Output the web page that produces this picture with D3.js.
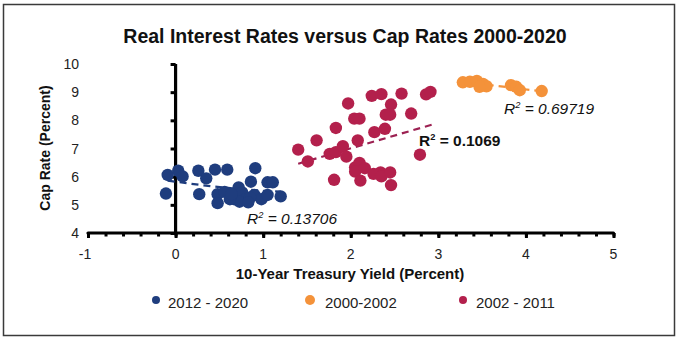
<!DOCTYPE html>
<html>
<head>
<meta charset="utf-8">
<script src="https://cdn.jsdelivr.net/npm/d3@7"></script>
<style>
  html, body { margin: 0; padding: 0; background: #fff; }
  svg { display: block; font-family: "Liberation Sans", Arial, sans-serif; }
</style>
</head>
<body>
<svg id="chart" width="680" height="341"></svg>
<script>
// ---------- data ----------
const chartTitle = "Real Interest Rates versus Cap Rates 2000-2020";
const xTicks = [-1, 0, 1, 2, 3, 4, 5];
const yTicks = [4, 5, 6, 7, 8, 9, 10];
const seriesNames = ["2012 - 2020", "2000-2002", "2002 - 2011"];

// 2012 - 2020 : [10y yield, cap rate]
const blueData = [
  [-0.09, 6.06], [0.03, 6.21], [0.08, 6.01], [-0.11, 5.40], [0.26, 6.21],
  [0.35, 5.94], [0.45, 6.25], [0.59, 6.25], [0.91, 6.30], [0.27, 5.38],
  [0.48, 5.38], [0.56, 5.46], [0.48, 5.06], [0.67, 5.20], [0.72, 5.62],
  [0.76, 5.44], [0.86, 5.82], [1.05, 5.80], [1.11, 5.80], [0.90, 5.35],
  [0.79, 5.18], [0.73, 5.11], [0.62, 5.20], [0.98, 5.20], [1.05, 5.35],
  [1.20, 5.30], [0.85, 5.26], [0.64, 5.38], [0.83, 5.09]
];
// 2000-2002
const orangeData = [
  [3.28, 9.35], [3.36, 9.37], [3.44, 9.40], [3.51, 9.29], [3.55, 9.21],
  [3.47, 9.19], [3.83, 9.25], [3.89, 9.19], [3.93, 9.07], [4.18, 9.04]
];
// 2002 - 2011
const crimsonData = [
  [1.40, 6.96], [1.51, 6.54], [1.61, 7.29], [1.76, 6.81], [1.83, 6.87],
  [1.81, 5.89], [1.83, 7.73], [1.91, 7.08], [1.95, 6.71], [1.97, 8.60],
  [2.04, 8.06], [2.10, 8.06], [2.08, 7.29], [2.05, 6.33], [2.10, 6.49],
  [2.05, 6.18], [2.11, 5.86], [2.16, 6.30], [2.24, 8.87], [2.35, 8.93],
  [2.46, 8.56], [2.40, 8.20], [2.45, 8.20], [2.58, 8.95], [2.27, 7.58],
  [2.39, 7.70], [2.69, 8.24], [2.86, 8.92], [2.91, 9.01], [2.26, 6.10],
  [2.34, 6.15], [2.35, 6.01], [2.45, 6.15], [2.46, 5.70], [2.79, 6.78]
];
// trend lines
const blueTrend = [[-0.09, 5.86], [0.3, 5.70], [0.6, 5.60], [0.9, 5.52], [1.2, 5.47]];
const orangeTrend = [[3.28, 9.37], [4.18, 9.03]];
const crimsonTrend = [[1.40, 6.46], [2.93, 7.85]];
const r2Labels = ["0.13706", "0.69719", "0.1069"];

// ---------- layout ----------
const colors = { blue: "#1f3d7e", orange: "#f4923a", crimson: "#b3204c", crimsonLine: "#9c2152" };
const svg = d3.select("#chart");

const x = d3.scaleLinear().domain([-1, 5]).range([88, 613.5]);
const y = d3.scaleLinear().domain([4, 10]).range([233, 64]);

// border
svg.append("rect").attr("x", 3.5).attr("y", 4.5).attr("width", 671).attr("height", 331)
  .attr("fill", "none").attr("stroke", "#3a3a3a").attr("stroke-width", 1.5);

// title
svg.append("text").attr("x", 345).attr("y", 43).attr("text-anchor", "middle")
  .attr("font-size", 19.5).attr("font-weight", "bold").attr("fill", "#111")
  .text(chartTitle);

// y tick labels (left side)
svg.append("g").selectAll("text").data(yTicks).join("text")
  .attr("x", 79).attr("y", d => y(d) + 5).attr("text-anchor", "end")
  .attr("font-size", 14).attr("fill", "#222").text(d => d);

// y axis line with ticks at x=0
const yAxis = d3.axisLeft(y).tickValues(yTicks).tickSize(5).tickFormat("");
const gy = svg.append("g").attr("transform", `translate(${x(0)},0)`).call(yAxis);
gy.select(".domain").attr("stroke", "#000").attr("stroke-width", 3.2).attr("d", `M0,${y(4)}V${y(10)}`);
gy.selectAll(".tick line").attr("stroke", "#000").attr("stroke-width", 3);

// x axis minor ticks
const minorVals = d3.range(-1, 5.0001, 0.2).map(v => +v.toFixed(2));
const xMinor = d3.axisBottom(x).tickValues(minorVals).tickSize(3.5).tickFormat("");
const gxm = svg.append("g").attr("transform", `translate(0,${y(4)})`).call(xMinor);
gxm.select(".domain").remove();
gxm.selectAll(".tick line").attr("stroke", "#000").attr("stroke-width", 3);

// x axis major
const xAxis = d3.axisBottom(x).tickValues(xTicks).tickSize(5).tickFormat("");
const gx = svg.append("g").attr("transform", `translate(0,${y(4)})`).call(xAxis);
gx.select(".domain").attr("stroke", "#000").attr("stroke-width", 3.2)
  .attr("stroke-linecap", "round").attr("d", `M${x(-1)},0H${x(5)}`);
gx.selectAll(".tick line").attr("stroke", "#000").attr("stroke-width", 3);

// x tick labels
svg.append("g").selectAll("text").data(xTicks).join("text")
  .attr("x", d => x(d) - (d < 0 ? 3 : 0)).attr("y", 259).attr("text-anchor", "middle")
  .attr("font-size", 14).attr("fill", "#222").text(d => d);

// axis titles
svg.append("text").attr("x", 350).attr("y", 279).attr("text-anchor", "middle")
  .attr("font-size", 15).attr("font-weight", "bold").attr("fill", "#111")
  .text("10-Year Treasury Yield (Percent)");
svg.append("text").attr("transform", "translate(50,148) rotate(-90)").attr("text-anchor", "middle")
  .attr("font-size", 14).attr("font-weight", "bold").attr("fill", "#111")
  .text("Cap Rate (Percent)");

// trend lines
const line = d3.line().x(d => x(d[0])).y(d => y(d[1])).curve(d3.curveMonotoneX);
svg.append("path").datum(blueTrend).attr("d", line).attr("fill", "none")
  .attr("stroke", colors.blue).attr("stroke-width", 2.2).attr("stroke-dasharray", "7,5");
svg.append("path").datum(orangeTrend).attr("d", line).attr("fill", "none")
  .attr("stroke", colors.orange).attr("stroke-width", 2.2).attr("stroke-dasharray", "7,5");
svg.append("path").datum(crimsonTrend).attr("d", line).attr("fill", "none")
  .attr("stroke", colors.crimsonLine).attr("stroke-width", 2.2).attr("stroke-dasharray", "7,5");

// points
function drawPoints(data, color) {
  svg.append("g").selectAll("circle").data(data).join("circle")
    .attr("cx", d => x(d[0])).attr("cy", d => y(d[1])).attr("r", 6.2)
    .attr("fill", color);
}
drawPoints(blueData, colors.blue);
drawPoints(orangeData, colors.orange);
drawPoints(crimsonData, colors.crimson);

// R² labels
function r2(xp, yp, val, opts) {
  const t = svg.append("text").attr("x", xp).attr("y", yp)
    .attr("font-size", opts.size).attr("fill", "#111")
    .attr("font-style", opts.italic ? "italic" : "normal")
    .attr("font-weight", opts.bold ? "bold" : "normal");
  t.append("tspan").text("R");
  t.append("tspan").attr("dy", -6).attr("font-size", opts.size * 0.6).text("2");
  t.append("tspan").attr("dy", 6).text(" = " + val);
}
r2(247, 224, r2Labels[0], { size: 15.5, italic: true });
r2(504, 114, r2Labels[1], { size: 15.5, italic: true });
r2(419, 146, r2Labels[2], { size: 15.5, bold: true });

// legend
const legend = [
  { name: seriesNames[0], color: colors.blue, cx: 156, tx: 168, r: 4 },
  { name: seriesNames[1], color: colors.orange, cx: 310, tx: 325, r: 5 },
  { name: seriesNames[2], color: colors.crimson, cx: 463, tx: 476, r: 4 }
];
const lg = svg.append("g");
lg.selectAll("circle").data(legend).join("circle")
  .attr("cx", d => d.cx).attr("cy", 300).attr("r", d => d.r).attr("fill", d => d.color);
lg.selectAll("text").data(legend).join("text")
  .attr("x", d => d.tx).attr("y", 308).attr("font-size", 15).attr("fill", "#222")
  .text(d => d.name);
</script>
</body>
</html>
